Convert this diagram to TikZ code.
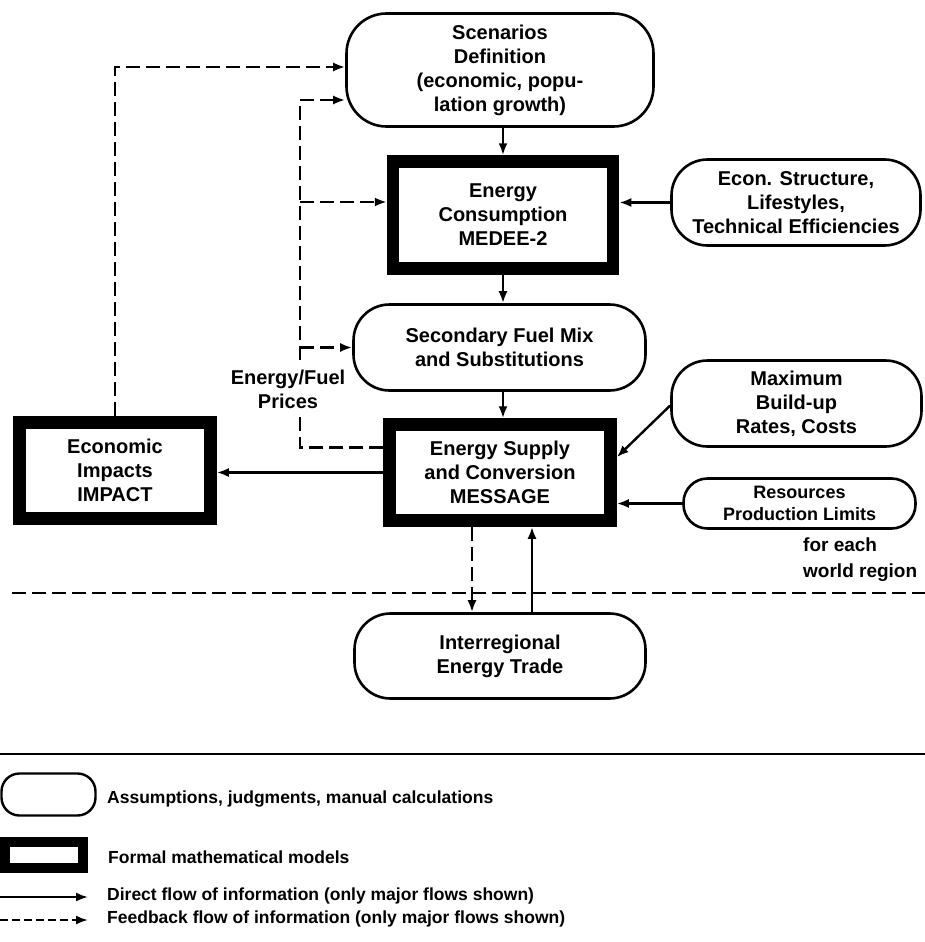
\documentclass[tikz,border=0pt]{standalone}
\usepackage{fontspec}
\setmainfont{Liberation Sans}
\usetikzlibrary{arrows.meta,calc}
\begin{document}
\begin{tikzpicture}[x=1pt,y=-1pt,
  every node/.style={font=\bfseries\fontsize{20}{24}\selectfont, align=center, inner sep=0pt},
  assume/.style={draw, line width=2.6pt, rounded corners=36pt},
  model/.style={draw, line width=12.5pt},
  flow/.style={line width=2.4pt, -{Latex[length=12pt,width=9pt]}},
  fb/.style={flow, dash pattern=on 14pt off 6pt},
  fbline/.style={line width=2.4pt, dash pattern=on 14pt off 6pt},
  legtext/.style={anchor=west, align=left, font=\bfseries\fontsize{17.5}{20}\selectfont}
]
\useasboundingbox (0,0) rectangle (925,942);

% main nodes
\node[assume, minimum width=307pt, minimum height=113pt, rounded corners=40pt] (scen) at (500,70)
  {Scenarios\\Definition\\(economic, popu-\\lation growth)};
\node[model, minimum width=220pt, minimum height=107pt] (ec) at (503,215)
  {Energy\\Consumption\\MEDEE-2};
\node[assume, minimum width=249pt, minimum height=86pt] (econ) at (796,202.5)
  {Econ. Structure,\\Lifestyles,\\Technical Efficiencies};
\node[assume, minimum width=292pt, minimum height=86pt] (sfm) at (499.5,347.5)
  {Secondary Fuel Mix\\and Substitutions};
\node[model, minimum width=221pt, minimum height=96pt] (es) at (500,472.5)
  {Energy Supply\\and Conversion\\MESSAGE};
\node[model, minimum width=191pt, minimum height=96pt] (imp) at (115,470.5)
  {Economic\\Impacts\\IMPACT};
\node[assume, minimum width=250pt, minimum height=86pt] (maxb) at (796.5,403.5)
  {Maximum\\Build-up\\Rates, Costs};
\node[assume, minimum width=232pt, minimum height=50pt, rounded corners=24pt,
  font=\bfseries\fontsize{18}{22}\selectfont] (res) at (799.5,503.5)
  {Resources\\Production Limits};
\node[anchor=west, align=left, font=\bfseries\fontsize{19}{26}\selectfont] (reg) at (803,560)
  {for each\\world region};
\node[assume, minimum width=291pt, minimum height=85pt] (trade) at (500,656)
  {Interregional\\Energy Trade};
\node (price) at (288,389) {Energy/Fuel\\Prices};

% direct flows
\draw[flow] (scen.south -| ec.north) -- (ec.north);
\draw[flow] (ec.south) -- (ec.south |- sfm.north);
\draw[flow] (sfm.south -| ec.south) -- (es.north -| ec.south);
\draw[flow] (econ.west) -- (econ.west -| ec.east);
\draw[flow] ([yshift=-2pt]maxb.west) -- ([yshift=-39pt]es.north east);
\draw[flow] (res.west) -- (res.west -| es.east);
\draw[flow] (es.west) -- (es.west -| imp.east);
\draw[flow] ([xshift=32pt]trade.north) -- ([xshift=32pt]trade.north |- es.south);

% feedback flows
\draw[fb] ([xshift=-28pt]es.south) -- ([xshift=-28pt]es.south |- trade.north);
\coordinate (oc) at (imp.north |- {(0,67)});
\draw[fb] (imp.north) -- (oc) -- ([yshift=3pt]scen.west);

\coordinate (vb) at (300,447.5);
\coordinate (vp1) at (300,413);
\coordinate (vp2) at (300,360);
\coordinate (vt) at (300,100);
\draw[fbline] ([yshift=25pt]es.west) -- (vb) -- (vp1);
\draw[fb] (vp2) -- (vt) -- ([yshift=-30pt]scen.west);
\draw[fb] ([yshift=13pt]ec.west -| vt) -- ([yshift=13pt]ec.west);
\draw[fb] (sfm.west -| vt) -- (sfm.west);

% separators
\coordinate (d1) at (12,593);
\coordinate (d2) at (925,593);
\draw[fbline] (d1) -- (d2);
\coordinate (s1) at (0,754);
\coordinate (s2) at (925,754);
\draw[line width=2.4pt] (s1) -- (s2);

% legend
\node[assume, line width=2.4pt, minimum width=94pt, minimum height=42pt, rounded corners=18pt] (la) at (48.5,794.5) {};
\node[model, line width=10pt, minimum width=78pt, minimum height=26pt] (lm) at (44,855) {};
\coordinate (l1a) at (0,897);
\coordinate (l1b) at (88,897);
\coordinate (l2a) at (0,920);
\coordinate (l2b) at (88,920);
\draw[flow, line width=2pt] (l1a) -- (l1b);
\draw[flow, line width=2pt, dash pattern=on 8pt off 4pt] (l2a) -- (l2b);
\node[legtext] (t1) at (107,799) {Assumptions, judgments, manual calculations};
\node[legtext] (t2) at (108,857) {Formal mathematical models};
\node[legtext] (t3) at (107,896) {Direct flow of information (only major flows shown)};
\node[legtext] (t4) at (107,919) {Feedback flow of information (only major flows shown)};
\end{tikzpicture}
\end{document}
